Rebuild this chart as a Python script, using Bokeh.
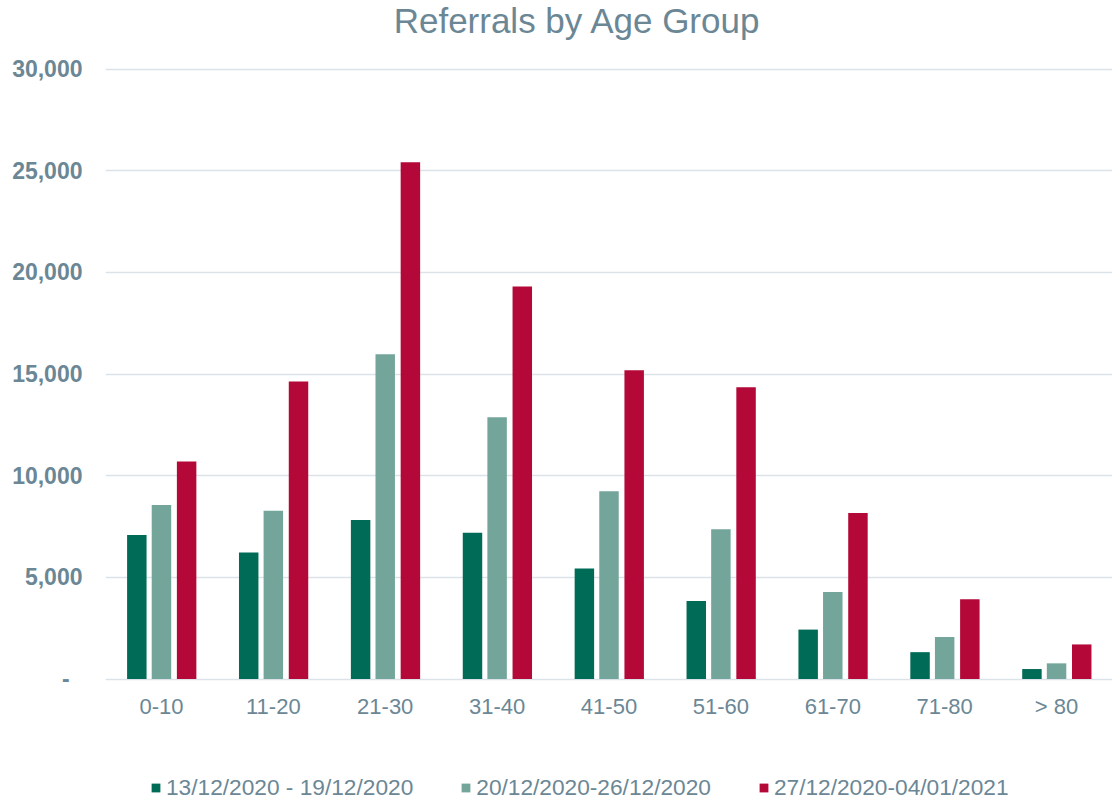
from bokeh.plotting import figure
from bokeh.models import (ColumnDataSource, FactorRange, Range1d, FixedTicker,
                          CustomJSTickFormatter, Legend, LegendItem, Label)
from bokeh.transform import dodge
from bokeh.embed import file_html
from bokeh.resources import INLINE

categories = ["0-10", "11-20", "21-30", "31-40", "41-50", "51-60", "61-70", "71-80", "> 80"]
series_names = ["13/12/2020 - 19/12/2020", "20/12/2020-26/12/2020", "27/12/2020-04/01/2021"]
week1 = [7080, 6220, 7820, 7190, 5440, 3830, 2430, 1320, 490]
week2 = [8560, 8280, 15970, 12870, 9230, 7370, 4280, 2070, 770]
week3 = [10700, 14630, 25410, 19300, 15180, 14350, 8160, 3920, 1700]
y_ticks = [0, 5000, 10000, 15000, 20000, 25000, 30000]
title_text = "Referrals by Age Group"

colors = ["#006B57", "#73A59B", "#B30838"]
text_color = "#6B8795"
font = "Liberation Sans"

src = ColumnDataSource(dict(cat=categories, w1=week1, w2=week2, w3=week3))

W, H = 1112, 803
# frame spans the full height; 0 sits at 678.5 px and 30,000 at 68.5 px from the top
px_per_unit = 610 / 30000
y_top = 678.5 / px_per_unit
y_bottom = -(H - 678.5) / px_per_unit

p = figure(x_range=FactorRange(*categories), y_range=Range1d(y_bottom, y_top),
           width=W, height=H, output_backend="svg", toolbar_location=None,
           min_border_left=105, min_border_right=0, min_border_top=0, min_border_bottom=0)
p.outline_line_color = None

offsets = [-0.22, 0.0, 0.225]
keys = ["w1", "w2", "w3"]
renderers = []
for k, off, c in zip(keys, offsets, colors):
    r = p.vbar(x=dodge("cat", off, range=p.x_range), top=k, width=0.174, source=src,
               fill_color=c, line_color=None)
    renderers.append(r)

p.yaxis.ticker = FixedTicker(ticks=y_ticks)
p.yaxis.formatter = CustomJSTickFormatter(code="""
    if (tick == 0) { return '-\\u00a0\\u00a0'; }
    return tick.toLocaleString('en-US');
""")
for ax in [p.xaxis[0], p.yaxis[0]]:
    ax.axis_line_color = None
    ax.major_tick_line_color = None
    ax.minor_tick_line_color = None
    ax.major_tick_out = 0
    ax.major_tick_in = 0
    ax.major_label_text_color = text_color
    ax.major_label_text_font = font

p.xaxis.fixed_location = 0
p.yaxis.major_label_text_font_size = "23px"
p.yaxis.major_label_text_font_style = "bold"
p.yaxis.major_label_standoff = 23
p.xaxis.major_label_text_font_size = "22px"
p.xaxis.major_label_standoff = 15

p.xgrid.grid_line_color = None
p.ygrid.grid_line_color = "#DCE3E8"
p.ygrid.grid_line_width = 1.6

title = Label(x=472, y=H - 20, x_units="screen", y_units="screen", text=title_text,
              text_align="center", text_baseline="middle", text_font=font,
              text_font_size="35px", text_color=text_color)
p.add_layout(title)

legend = Legend(items=[LegendItem(label=n, renderers=[r]) for n, r in zip(series_names, renderers)],
                orientation="horizontal", location=(45, 2))
legend.label_text_font = font
legend.label_text_font_size = "22.7px"
legend.label_text_color = text_color
legend.glyph_width = 11
legend.glyph_height = 11
legend.label_standoff = 5
legend.spacing = 47
legend.padding = 0
legend.margin = 0
legend.border_line_color = None
legend.background_fill_alpha = 0
legend.label_height = 22
p.add_layout(legend, "center")

open("out.html", "w").write(file_html(p, INLINE))
